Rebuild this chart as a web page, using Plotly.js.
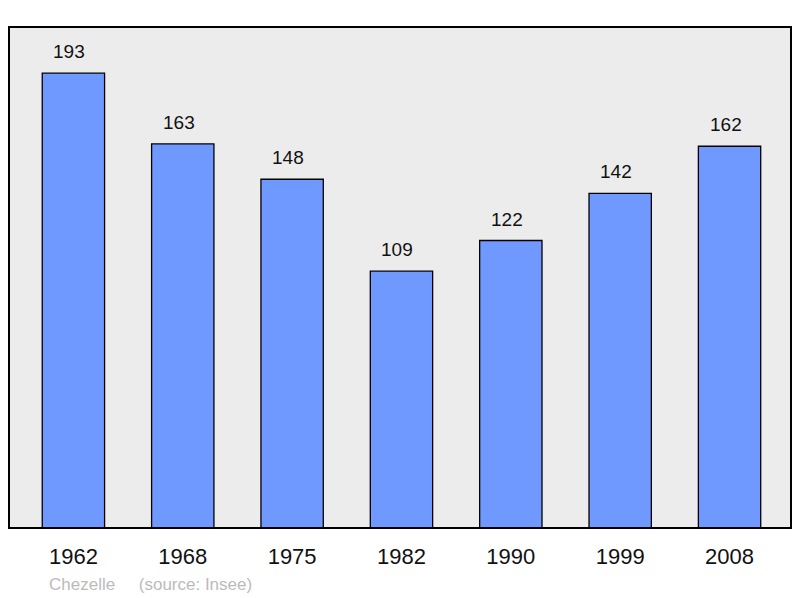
<!DOCTYPE html>
<html>
<head>
<meta charset="utf-8">
<script src="https://cdn.plot.ly/plotly-3.0.1.min.js"></script>
<style>
  html, body { margin: 0; padding: 0; background: #ffffff; }
  #chart { width: 800px; height: 598px; }
</style>
</head>
<body>
<div id="chart"></div>
<script>
var years = ['1962', '1968', '1975', '1982', '1990', '1999', '2008'];
var population = [193, 163, 148, 109, 122, 142, 162];

var bars = {
  type: 'bar',
  x: years,
  y: population,
  width: 0.57,
  marker: {
    color: '#7099ff',
    line: { color: '#000000', width: 1.3 }
  },
  hoverinfo: 'x+y'
};

// value labels a bit above each bar (x given as category index)
var labels = years.map(function (yr, i) {
  return {
    x: i,
    y: population[i],
    text: String(population[i]),
    showarrow: false,
    yanchor: 'bottom',
    yshift: 9,
    xshift: -4,
    font: { family: 'Liberation Sans, Arial, sans-serif', size: 19, color: '#111111' }
  };
});

labels.push({
  xref: 'paper', yref: 'paper',
  x: 0.048, y: -0.09,
  xanchor: 'left', yanchor: 'top',
  text: 'Chezelle&nbsp;&nbsp;&nbsp;&nbsp;&nbsp;(source: Insee)',
  showarrow: false,
  font: { family: 'Liberation Sans, Arial, sans-serif', size: 17, color: '#bbbbbb' }
});

var layout = {
  width: 800,
  height: 598,
  margin: { l: 9, r: 9, t: 27, b: 70 },
  paper_bgcolor: '#ffffff',
  plot_bgcolor: '#ececec',
  showlegend: false,
  bargap: 0,
  xaxis: {
    type: 'category',
    range: [-0.589, 6.562],
    showgrid: false,
    zeroline: false,
    showline: false,
    ticks: '',
    ticklabelstandoff: 13,
    tickfont: { family: 'Liberation Sans, Arial, sans-serif', size: 22, color: '#111111' }
  },
  yaxis: {
    range: [0, 212.6],
    showgrid: false,
    zeroline: false,
    showline: false,
    showticklabels: false,
    ticks: ''
  },
  shapes: [{
    type: 'rect',
    xref: 'paper', yref: 'paper',
    x0: 0, x1: 1, y0: 0, y1: 1,
    line: { color: '#000000', width: 2 },
    fillcolor: 'rgba(0,0,0,0)',
    layer: 'above'
  }],
  annotations: labels
};

Plotly.newPlot('chart', [bars], layout, { displayModeBar: false, staticPlot: true });
</script>
</body>
</html>
